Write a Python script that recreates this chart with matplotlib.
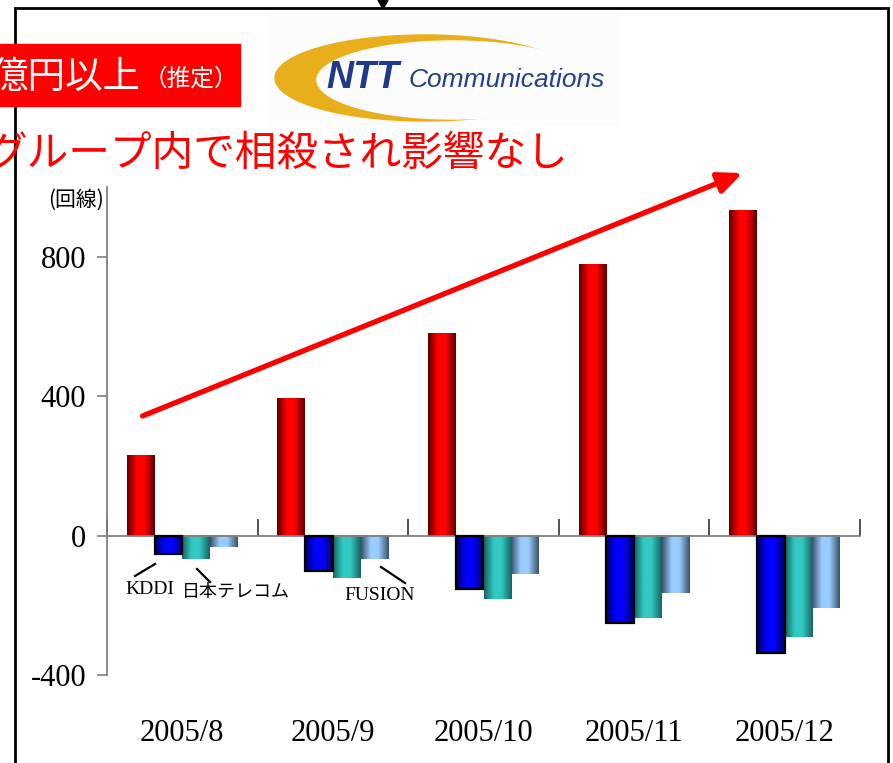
import numpy as np
import matplotlib
matplotlib.use("Agg")
import matplotlib.pyplot as plt
from matplotlib.colors import LinearSegmentedColormap
from matplotlib.patches import Rectangle, Ellipse, Polygon, FancyArrowPatch
from matplotlib.lines import Line2D

# data (回線, net change per month)
months = ["2005/8", "2005/9", "2005/10", "2005/11", "2005/12"]
ntt_com = [231, 395, 581, 779, 934]
kddi = [-54, -102, -153, -251, -337]
nihon_telecom = [-67, -122, -182, -236, -291]
fusion = [-33, -67, -110, -165, -208]
yticks = [-400, 0, 400, 800]

W, H = 893, 763
fig = plt.figure(figsize=(W / 100, H / 100), dpi=100)
fig.patch.set_facecolor("white")


def px(x, y):
    # pixel position (top-left origin) -> figure fraction
    return x / W, 1 - y / H


num_font = ["Liberation Serif", "Noto Sans CJK JP"]
jp_font = ["Noto Sans CJK JP", "DejaVu Sans"]

ax = fig.add_axes([107 / W, 1 - 675 / H, (860 - 107) / W, (675 - 187) / H])

series = [
    (ntt_com, "#5a0000", "#ff0000"),
    (kddi, "#000060", "#0000ff"),
    (nihon_telecom, "#16625f", "#33c9c3"),
    (fusion, "#3a506a", "#99ccff"),
]
x = np.arange(len(months))
w = 0.184
for i, (vals, dark, bright) in enumerate(series):
    pos = x + (i - 1.5) * w
    bars = ax.bar(pos, vals, width=w, color=bright, zorder=2)
    cmap = LinearSegmentedColormap.from_list(
        "c%d" % i, [(0, dark), (0.35, bright), (0.62, bright), (1, dark)])
    grad = np.linspace(0, 1, 256).reshape(1, -1)
    for b in bars:
        bx, by, bw, bh = b.get_x(), b.get_y(), b.get_width(), b.get_height()
        ax.imshow(grad, extent=[bx, bx + bw, by, by + bh], aspect="auto",
                  cmap=cmap, zorder=2.5, interpolation="bilinear")
    if i == 1:
        ax.bar(pos, vals, width=w, fill=False, edgecolor="black", lw=1.6, zorder=3)

ax.set_xlim(-0.5, len(months) - 0.5)
ax.set_ylim(-400, 1000)

for s in ["top", "right"]:
    ax.spines[s].set_visible(False)
ax.spines["bottom"].set_position(("data", 0))
ax.spines["bottom"].set_color("#808080")
ax.spines["left"].set_color("#808080")
ax.spines["bottom"].set_linewidth(1.3)
ax.spines["left"].set_linewidth(1.3)
ax.set_xticks(np.arange(-0.5, len(months), 1.0))
ax.set_xticklabels([])
ax.tick_params(axis="x", direction="in", length=12, width=1.2, color="#333333")
ax.set_yticks(yticks)
ax.set_yticklabels([str(v) for v in yticks], fontfamily=num_font, fontsize=22)
ax.tick_params(axis="y", direction="out", length=7, width=1.2, color="#808080", pad=8)
ax.set_facecolor("none")

# month labels at the bottom
for xi, m in zip(x, months):
    ax.text(xi, -0.12, m, transform=ax.get_xaxis_transform(), ha="center", va="center",
            fontfamily=num_font, fontsize=22)

# unit
fig.text(*px(104, 200), "(回線)", ha="right", va="center", fontfamily=jp_font, fontsize=15)

# series labels with leader lines
labels = [("KDDI", 14, (150, 590), (135, 576), (155, 564)),
          ("日本テレコム", 13, (236, 592), (197, 569), (210, 582)),
          ("FUSION", 14, (380, 595), (381, 567), (405, 583))]
for txt, fs, tp, a, b in labels:
    fig.text(*px(*tp), txt, ha="center", va="center", fontfamily=num_font, fontsize=fs)
    fig.add_artist(Line2D([a[0] / W, b[0] / W], [1 - a[1] / H, 1 - b[1] / H],
                          color="black", lw=1.6))

# outer frame and the small marker on top
fig.add_artist(Rectangle(px(15, 770), (888 - 15) / W, (770 - 8) / H, fill=False,
                         edgecolor="black", lw=2, transform=fig.transFigure))
fig.add_artist(Polygon([px(378, 0), px(388, 0), px(383, 9)], closed=True,
                       color="black", transform=fig.transFigure))

# red header box
fig.add_artist(Rectangle(px(0, 106), 240 / W, 62 / H, color="#ff0000",
                         transform=fig.transFigure, zorder=5))
fig.text(*px(140, 77), "億円以上", ha="right", va="center", color="white",
         fontfamily=jp_font, fontsize=27, zorder=6)
fig.text(*px(238, 79), "（推定）", ha="right", va="center", color="white",
         fontfamily=jp_font, fontsize=17, zorder=6)

# red caption
fig.text(*px(568, 154), "グループ内で相殺され影響なし", ha="right", va="center",
         color="#ff0000", fontfamily=jp_font, fontsize=30)

# logo
fig.add_artist(Rectangle(px(268, 125), 350 / W, 112 / H, color="#fcfcfc",
                         transform=fig.transFigure, zorder=1))
fig.add_artist(Ellipse(px(425, 78), 300 / W, 86 / H, color="#e8ae1c",
                       transform=fig.transFigure, zorder=2))
fig.add_artist(Ellipse(px(453, 80), 272 / W, 78 / H, color="#fcfcfc",
                       transform=fig.transFigure, zorder=3))
fig.text(*px(326, 78), "NTT", ha="left", va="center", color="#1f3a8a",
         fontfamily="Liberation Sans", fontweight="bold", fontstyle="italic",
         fontsize=27, zorder=4)
fig.text(*px(409, 80), "Communications", ha="left", va="center", color="#23408c",
         fontfamily="Liberation Sans", fontstyle="italic", fontsize=19, zorder=4)

# trend arrow
fig.add_artist(FancyArrowPatch(px(140, 417), px(745, 172), transform=fig.transFigure,
                               arrowstyle="-|>,head_length=9,head_width=4",
                               color="#ff0000", lw=3.8, mutation_scale=1.6, zorder=6))

fig.savefig("out.png", dpi=100)
